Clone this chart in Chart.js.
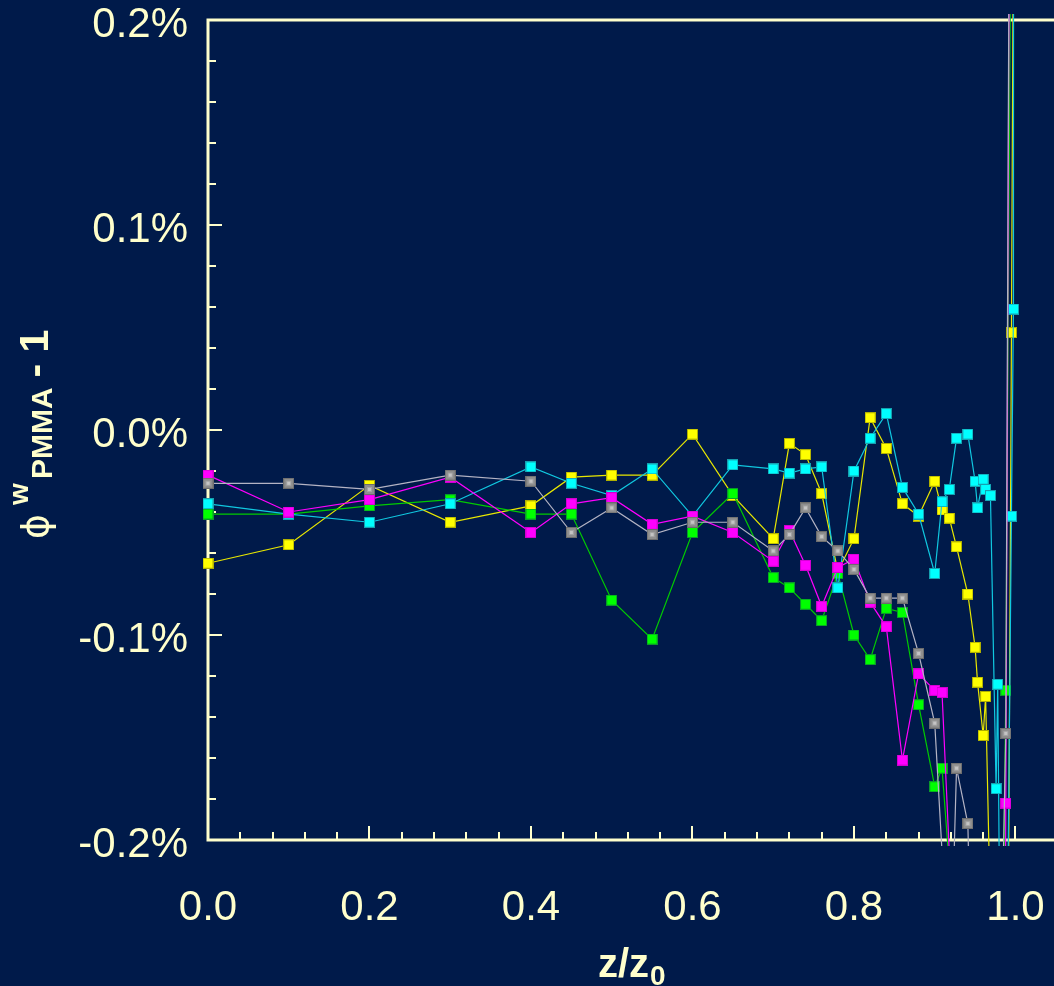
<!DOCTYPE html>
<html>
<head>
<meta charset="utf-8">
<script src="https://cdn.jsdelivr.net/npm/chart.js@4.4.1/dist/chart.umd.min.js"></script>
<style>
  html, body { margin: 0; padding: 0; background: #001a4a; }
  canvas { display: block; }
</style>
</head>
<body>
<canvas id="profile" width="1054" height="986"></canvas>
<script>
// Relative depth z/z0 and deviation of the PMMA volume fraction, in percent.
const zGray = [0, 0.1, 0.2, 0.3, 0.4, 0.45, 0.5, 0.55, 0.6, 0.65, 0.7, 0.72, 0.74, 0.76, 0.78, 0.8, 0.82, 0.84, 0.86, 0.88, 0.9,
  0.919, 0.927, 0.941, 0.965, 0.988, 1.0];
const phiGray = [-0.026, -0.026, -0.029, -0.022, -0.025, -0.050, -0.038, -0.051, -0.045, -0.045, -0.059, -0.051, -0.038, -0.052, -0.059, -0.068, -0.082, -0.082, -0.082, -0.109, -0.143,
  -0.275, -0.165, -0.192, -0.600, -0.148, 1.00];

const zMagenta = [0, 0.1, 0.2, 0.3, 0.4, 0.45, 0.5, 0.55, 0.6, 0.65, 0.7, 0.72, 0.74, 0.76, 0.78, 0.8, 0.82, 0.84, 0.86, 0.88, 0.9,
  0.909, 0.983, 0.988, 1.0];
const phiMagenta = [-0.022, -0.040, -0.034, -0.023, -0.050, -0.036, -0.033, -0.046, -0.042, -0.050, -0.064, -0.049, -0.066, -0.086, -0.067, -0.063, -0.084, -0.096, -0.161, -0.119, -0.127,
  -0.128, -0.766, -0.182, 1.00];

const zCyan = [0, 0.1, 0.2, 0.3, 0.4, 0.45, 0.5, 0.55, 0.6, 0.65, 0.7, 0.72, 0.74, 0.76, 0.78, 0.8, 0.82, 0.84, 0.86, 0.88, 0.9,
  0.909, 0.918, 0.927, 0.941, 0.950, 0.953, 0.960, 0.963, 0.969, 0.976, 0.978, 0.985, 0.995, 0.9975, 1.0];
const phiCyan = [-0.036, -0.041, -0.045, -0.036, -0.018, -0.026, -0.032, -0.019, -0.042, -0.017, -0.019, -0.021, -0.019, -0.018, -0.077, -0.020, -0.004, 0.008, -0.028, -0.041, -0.070,
  -0.035, -0.029, -0.004, -0.002, -0.025, -0.038, -0.024, -0.029, -0.032, -0.175, -0.124, -0.450, -0.042, 0.059, 4.00];

const zGreen = [0, 0.1, 0.2, 0.3, 0.4, 0.45, 0.5, 0.55, 0.6, 0.65, 0.7, 0.72, 0.74, 0.76, 0.78, 0.8, 0.82, 0.84, 0.86, 0.88, 0.9,
  0.909, 0.977, 0.988, 1.0];
const phiGreen = [-0.041, -0.041, -0.037, -0.034, -0.041, -0.041, -0.083, -0.102, -0.050, -0.031, -0.072, -0.077, -0.085, -0.093, -0.070, -0.100, -0.112, -0.087, -0.089, -0.134, -0.174,
  -0.165, -0.522, -0.127, 0.60];

const zYellow = [0, 0.1, 0.2, 0.3, 0.4, 0.45, 0.5, 0.55, 0.6, 0.65, 0.7, 0.72, 0.74, 0.76, 0.78, 0.8, 0.82, 0.84, 0.86, 0.88, 0.9,
  0.909, 0.918, 0.927, 0.941, 0.950, 0.953, 0.960, 0.963, 0.987, 0.995, 1.0];
const phiYellow = [-0.065, -0.056, -0.027, -0.045, -0.037, -0.023, -0.022, -0.022, -0.002, -0.032, -0.053, -0.0065, -0.012, -0.031, -0.069, -0.053, 0.006, -0.009, -0.036, -0.042, -0.025,
  -0.039, -0.043, -0.057, -0.080, -0.106, -0.123, -0.149, -0.130, -0.560, 0.0475, 0.47];

const xTickLabels = [0, 0.2, 0.4, 0.6, 0.8, 1.0];
const yTickLabels = [-0.2, -0.1, 0.0, 0.1, 0.2];

const CREAM = '#ffffcc';
const FONT = '"Liberation Sans", Arial, Helvetica, sans-serif';

function marker(fill, edge, ring, core) {
  const c = document.createElement('canvas');
  c.width = 11; c.height = 11;
  const g = c.getContext('2d');
  g.fillStyle = edge; g.fillRect(0, 0, 11, 11);
  g.fillStyle = fill; g.fillRect(1, 1, 9, 9);
  if (ring) { g.fillStyle = ring; g.fillRect(3, 3, 5, 5); }
  if (core) { g.fillStyle = core; g.fillRect(4, 4, 3, 3); }
  return c;
}

function pts(z, v) { return z.map((zz, i) => ({ x: zz, y: v[i] })); }

function series(label, z, v, line, pointImg) {
  return {
    label, data: pts(z, v),
    borderColor: line, borderWidth: 1.2, tension: 0,
    pointStyle: pointImg, pointRadius: 6, pointHoverRadius: 6,
    clip: { left: 8, top: 6, right: 8, bottom: 6 },
    fill: false
  };
}

// Frame and inward-pointing ticks drawn from the chart's own scales.
const axisFrame = {
  id: 'axisFrame',
  beforeDatasetsDraw(chart) {
    const { ctx, chartArea: a, scales: { x, y } } = chart;
    ctx.save();
    ctx.strokeStyle = CREAM;
    ctx.lineWidth = 3;
    ctx.beginPath();
    ctx.moveTo(a.right + 2, a.top);
    ctx.lineTo(a.left, a.top);
    ctx.lineTo(a.left, a.bottom);
    ctx.lineTo(a.right + 2, a.bottom);
    ctx.stroke();
    ctx.lineWidth = 2;
    ctx.beginPath();
    for (let i = 1; i <= 25; i++) {
      const px = Math.round(x.getPixelForValue(i * 0.04));
      const len = i % 5 === 0 ? 14 : 8;
      ctx.moveTo(px, a.bottom);
      ctx.lineTo(px, a.bottom - len);
    }
    for (let i = 1; i < 20; i++) {
      const py = Math.round(y.getPixelForValue(-0.2 + i * 0.02));
      const len = i % 5 === 0 ? 14 : 8;
      ctx.moveTo(a.left, py);
      ctx.lineTo(a.left + len, py);
    }
    ctx.stroke();
    ctx.restore();
  }
};

// Axis titles with sub- and superscripts.
const axisTitles = {
  id: 'axisTitles',
  afterDraw(chart) {
    const { ctx } = chart;
    ctx.save();
    ctx.fillStyle = CREAM;
    ctx.textAlign = 'left';
    ctx.textBaseline = 'alphabetic';

    ctx.font = 'bold 40px ' + FONT;
    ctx.fillText('z/z', 598, 977);
    ctx.font = 'bold 28px ' + FONT;
    ctx.fillText('0', 650, 985);

    ctx.translate(48, 539);
    ctx.rotate(-Math.PI / 2);
    ctx.font = '38px "DejaVu Sans", sans-serif';
    ctx.fillText('\u03D5', 0, 0);
    ctx.font = 'bold 28px ' + FONT;
    ctx.fillText('w', 34, -20);
    ctx.font = 'bold 30px ' + FONT;
    ctx.fillText('PMMA', 60, 4);
    ctx.font = 'bold 41px ' + FONT;
    ctx.fillText(' - 1', 150, 0);
    ctx.restore();
  }
};

const markers = {
  gray: marker('#8e8e8e', '#6c6c6c', '#a4a4a4', '#c4c4c4'),
  magenta: marker('#ff00ff', '#d000d0'),
  cyan: marker('#00ffff', '#16a0b0'),
  green: marker('#00ff00', '#0a9a2a'),
  yellow: marker('#ffff00', '#b0b000')
};

new Chart(document.getElementById('profile'), {
  type: 'line',
  data: {
    datasets: [
      series('gray', zGray, phiGray, '#b4b4c4', markers.gray),
      series('magenta', zMagenta, phiMagenta, '#ff00ff', markers.magenta),
      series('cyan', zCyan, phiCyan, '#10c8e0', markers.cyan),
      series('green', zGreen, phiGreen, '#00cc00', markers.green),
      series('yellow', zYellow, phiYellow, '#e8e800', markers.yellow)
    ]
  },
  options: {
    responsive: false,
    animation: false,
    devicePixelRatio: 1,
    layout: { autoPadding: false, padding: { top: 20, right: 0, bottom: 0, left: 0 } },
    plugins: { legend: { display: false }, tooltip: { enabled: false } },
    scales: {
      x: {
        type: 'linear', min: 0, max: 1.0477,
        afterBuildTicks(s) { s.ticks = xTickLabels.map(v => ({ value: v })); },
        afterFit(s) { s.height = 146; s.paddingLeft = 0; s.paddingRight = 0; },
        grid: { display: false, drawTicks: false },
        border: { display: false },
        ticks: {
          color: CREAM, font: { family: FONT, size: 42 }, padding: 43,
          maxRotation: 0, autoSkip: false,
          callback: v => Number(v).toFixed(1)
        }
      },
      y: {
        type: 'linear', min: -0.2, max: 0.2,
        afterBuildTicks(s) { s.ticks = yTickLabels.map(v => ({ value: v })); },
        afterFit(s) { s.width = 208; s.paddingTop = 0; s.paddingBottom = 0; },
        grid: { display: false, drawTicks: false },
        border: { display: false },
        ticks: {
          color: CREAM, font: { family: FONT, size: 42 }, padding: 20, labelOffset: 5,
          callback: v => Number(v).toFixed(1) + '%'
        }
      }
    }
  },
  plugins: [axisFrame, axisTitles]
});
</script>
</body>
</html>
